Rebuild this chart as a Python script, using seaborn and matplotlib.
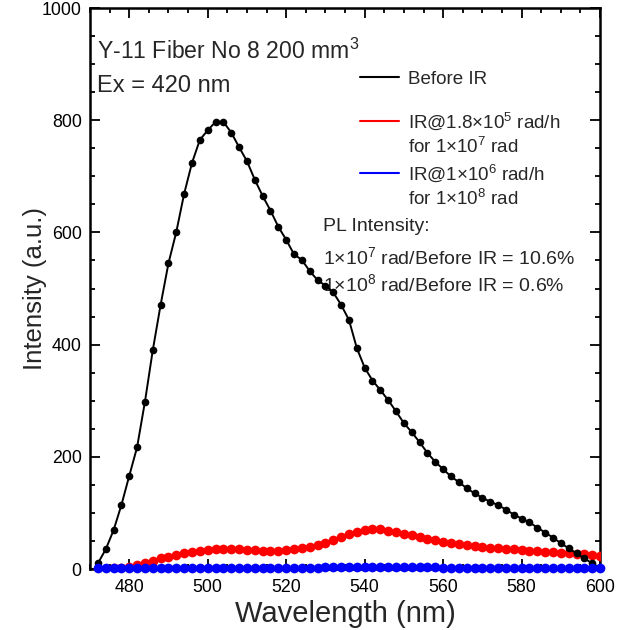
import matplotlib
matplotlib.use("Agg")
import matplotlib.pyplot as plt
from matplotlib.ticker import MultipleLocator
from matplotlib.lines import Line2D
from matplotlib.legend import Legend
import seaborn as sns
import pandas as pd

wavelength = list(range(472, 601, 2))

before_ir = [10, 35, 69, 114, 166, 217, 298, 390, 471, 545,
             601, 669, 724, 765, 782, 797, 797, 778, 752, 727,
             694, 665, 639, 610, 587, 561, 551, 531, 515, 505,
             493, 471, 444, 394, 359, 336, 319, 301, 281, 260,
             244, 226, 207, 191, 178, 165, 155, 144, 135, 127,
             120, 114, 106, 97, 90, 83, 74, 65, 56, 46,
             37, 28, 19, 10, 2]

ir_1e7 = [0, 0.5, 1, 2, 4, 7, 11, 15, 19, 22,
          25, 28, 30, 32, 34, 35, 35, 35, 35, 34,
          34, 33, 33, 33, 34, 35, 37, 39, 43, 47,
          52, 57, 62, 66, 69, 71, 71, 68, 66, 63,
          60, 57, 54, 51, 48, 46, 44, 42, 41, 39,
          38, 37, 36, 35, 34, 33, 32, 31, 30, 29,
          28, 27, 26, 25, 23]

ir_1e8 = [1, 1, 1, 1, 1, 1.5, 1.5, 1.5, 2, 2,
          2, 2, 2, 2, 2, 2, 2, 2, 2, 2,
          2, 2, 2, 2, 2, 2, 2, 2.5, 2.5, 3,
          3, 3, 3, 3.5, 3.5, 3.5, 3.5, 3.5, 3, 3,
          3, 3, 3, 3, 2.5, 2.5, 2.5, 2.5, 2.5, 2.5,
          2.5, 2, 2, 2, 2, 2, 2, 2, 2, 2,
          2, 2, 2, 2, 2]

legend_lines = [["Before IR"],
                ["IR@1.8×10$^{5}$ rad/h", "for 1×10$^{7}$ rad"],
                ["IR@1×10$^{6}$ rad/h", "for 1×10$^{8}$ rad"]]
colors = ["black", "red", "blue"]

x_ticks = [480, 500, 520, 540, 560, 580, 600]
y_ticks = [0, 200, 400, 600, 800, 1000]

sns.set_theme(style="ticks")
plt.rcParams['font.family'] = ['Liberation Sans', 'DejaVu Sans']
plt.rcParams['mathtext.fontset'] = 'custom'
plt.rcParams['mathtext.rm'] = 'Liberation Sans'
plt.rcParams['mathtext.it'] = 'Liberation Sans:italic'
plt.rcParams['mathtext.bf'] = 'Liberation Sans:bold'

df = pd.DataFrame({"wl": wavelength, "b": before_ir, "r": ir_1e7, "u": ir_1e8})

fig = plt.figure(figsize=(6.19, 6.30), dpi=100)
ax = fig.add_axes([0.1454, 0.0968, 0.824, 0.8905])

sns.lineplot(data=df, x="wl", y="r", ax=ax, color=colors[1], marker="o",
             markersize=7, markeredgewidth=0, linewidth=1.2, zorder=3)
sns.lineplot(data=df, x="wl", y="b", ax=ax, color=colors[0], marker="o",
             markersize=5.5, markeredgewidth=0, linewidth=1.4, zorder=5)
sns.lineplot(data=df, x="wl", y="u", ax=ax, color=colors[2], marker="o",
             markersize=7, markeredgewidth=0, linewidth=1.5, zorder=6,
             clip_on=False)

ax.set_xlim(470, 600)
ax.set_ylim(0, 1000)
ax.set_xticks(x_ticks)
ax.set_yticks(y_ticks)
ax.xaxis.set_minor_locator(MultipleLocator(5))
ax.yaxis.set_minor_locator(MultipleLocator(50))
ax.tick_params(which="both", direction="in", top=True, right=True,
               labelsize=12.8, width=1.3, colors="black")
ax.tick_params(which="major", length=7.5)
ax.tick_params(which="minor", length=3.8)
ax.tick_params(axis="x", which="major", pad=7)
ax.tick_params(axis="y", which="major", pad=6)
for s in ax.spines.values():
    s.set_linewidth(1.8)
    s.set_color("black")

ax.set_xlabel("Wavelength (nm)", fontsize=21, labelpad=3)
ax.set_ylabel("Intensity (a.u.)", fontsize=18.5, labelpad=-4)

# legends: one per series, each line of a label as its own row
tops = [0.888, 0.818, 0.725]
for lines, col, top in zip(legend_lines, colors, tops):
    hs = [Line2D([], [], color=col, linewidth=1.5)]
    hs += [Line2D([], [], color="none") for _ in lines[1:]]
    leg = Legend(ax, hs, lines, loc="upper left", bbox_to_anchor=(0.529, top),
                 frameon=False, fontsize=13.5, handlelength=2.1,
                 handletextpad=0.45, borderaxespad=0, borderpad=0,
                 labelspacing=0.3)
    ax.add_artist(leg)

ax.text(0.014, 0.923, "Y-11 Fiber No 8 200 mm$^{3}$", transform=ax.transAxes,
        fontsize=16.6, va="center", ha="left")
ax.text(0.014, 0.861, "Ex = 420 nm", transform=ax.transAxes,
        fontsize=17, va="center", ha="left")
ax.text(0.457, 0.611, "PL Intensity:", transform=ax.transAxes,
        fontsize=14, va="center", ha="left")
ax.text(0.457, 0.556, "1×10$^{7}$ rad/Before IR = 10.6%", transform=ax.transAxes,
        fontsize=14, va="center", ha="left")
ax.text(0.457, 0.508, "1×10$^{8}$ rad/Before IR = 0.6%", transform=ax.transAxes,
        fontsize=14, va="center", ha="left")

fig.savefig("out.png", dpi=100, facecolor="white")
